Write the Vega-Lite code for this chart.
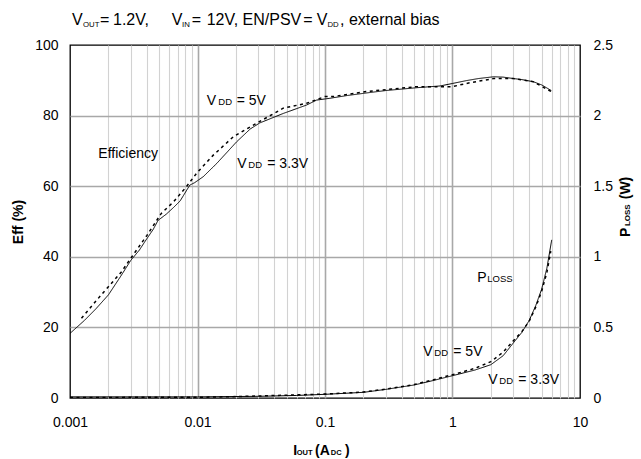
{
  "$schema": "https://vega.github.io/schema/vega-lite/v6.json",
  "width": 510,
  "height": 353,
  "autosize": {"type": "none"},
  "padding": {"left": 70, "top": 45, "right": 61, "bottom": 61},
  "background": "white",
  "config": {
    "font": "Liberation Sans",
    "view": {"stroke": "black", "strokeWidth": 1.3},
    "text": {"font": "Liberation Sans", "color": "black", "align": "left", "baseline": "alphabetic"}
  },
  "datasets": {
    "eff": [
      {"I": 0.001, "eff": 18.3, "s": "3.3V"}, {"I": 0.0013, "eff": 22, "s": "3.3V"}, {"I": 0.0016, "eff": 25.3, "s": "3.3V"},
      {"I": 0.002, "eff": 29.2, "s": "3.3V"}, {"I": 0.0025, "eff": 34.5, "s": "3.3V"}, {"I": 0.003, "eff": 39, "s": "3.3V"},
      {"I": 0.0035, "eff": 41.9, "s": "3.3V"}, {"I": 0.0039, "eff": 44.5, "s": "3.3V"}, {"I": 0.0045, "eff": 47.8, "s": "3.3V"},
      {"I": 0.0049, "eff": 50.3, "s": "3.3V"}, {"I": 0.0057, "eff": 52.1, "s": "3.3V"}, {"I": 0.0065, "eff": 54, "s": "3.3V"},
      {"I": 0.0073, "eff": 55.8, "s": "3.3V"}, {"I": 0.0087, "eff": 60.3, "s": "3.3V"}, {"I": 0.0095, "eff": 61, "s": "3.3V"},
      {"I": 0.0111, "eff": 62.7, "s": "3.3V"}, {"I": 0.0142, "eff": 66.5, "s": "3.3V"}, {"I": 0.0203, "eff": 72.6, "s": "3.3V"},
      {"I": 0.0259, "eff": 76.2, "s": "3.3V"}, {"I": 0.0307, "eff": 77.9, "s": "3.3V"}, {"I": 0.047, "eff": 80.6, "s": "3.3V"},
      {"I": 0.0718, "eff": 83, "s": "3.3V"}, {"I": 0.086, "eff": 84.4, "s": "3.3V"}, {"I": 0.109, "eff": 84.9, "s": "3.3V"},
      {"I": 0.15, "eff": 85.7, "s": "3.3V"}, {"I": 0.21, "eff": 86.4, "s": "3.3V"}, {"I": 0.3, "eff": 87.1, "s": "3.3V"},
      {"I": 0.525, "eff": 87.9, "s": "3.3V"}, {"I": 0.8, "eff": 88.4, "s": "3.3V"}, {"I": 1.0, "eff": 89.1, "s": "3.3V"},
      {"I": 1.28, "eff": 89.9, "s": "3.3V"}, {"I": 1.6, "eff": 90.5, "s": "3.3V"}, {"I": 2.1, "eff": 91, "s": "3.3V"},
      {"I": 2.5, "eff": 90.9, "s": "3.3V"}, {"I": 3.0, "eff": 90.5, "s": "3.3V"}, {"I": 3.5, "eff": 90.2, "s": "3.3V"},
      {"I": 4.3, "eff": 89.6, "s": "3.3V"}, {"I": 5.0, "eff": 88.7, "s": "3.3V"}, {"I": 5.95, "eff": 87.1, "s": "3.3V"},
      {"I": 0.00123, "eff": 22.6, "s": "5V"}, {"I": 0.0016, "eff": 27.5, "s": "5V"}, {"I": 0.002, "eff": 31.5, "s": "5V"},
      {"I": 0.00254, "eff": 35.8, "s": "5V"}, {"I": 0.003, "eff": 39.6, "s": "5V"}, {"I": 0.004, "eff": 46, "s": "5V"},
      {"I": 0.0052, "eff": 52.3, "s": "5V"}, {"I": 0.0065, "eff": 55.6, "s": "5V"}, {"I": 0.0082, "eff": 59.9, "s": "5V"},
      {"I": 0.0098, "eff": 63.6, "s": "5V"}, {"I": 0.0133, "eff": 68.8, "s": "5V"}, {"I": 0.0191, "eff": 74, "s": "5V"},
      {"I": 0.029, "eff": 77.8, "s": "5V"}, {"I": 0.047, "eff": 82.1, "s": "5V"}, {"I": 0.0718, "eff": 83.5, "s": "5V"},
      {"I": 0.1, "eff": 85.4, "s": "5V"}, {"I": 0.116, "eff": 85.4, "s": "5V"}, {"I": 0.21, "eff": 86.8, "s": "5V"},
      {"I": 0.525, "eff": 88.2, "s": "5V"}, {"I": 1.0, "eff": 88.2, "s": "5V"}, {"I": 1.28, "eff": 89.1, "s": "5V"},
      {"I": 2.1, "eff": 90.5, "s": "5V"}, {"I": 3.0, "eff": 90.5, "s": "5V"}, {"I": 4.3, "eff": 89.6, "s": "5V"},
      {"I": 5.95, "eff": 86.8, "s": "5V"}
    ],
    "ploss": [
      {"I": 0.001, "p": 0.008, "s": "3.3V"}, {"I": 0.003, "p": 0.008, "s": "3.3V"}, {"I": 0.01, "p": 0.008, "s": "3.3V"},
      {"I": 0.03, "p": 0.012, "s": "3.3V"}, {"I": 0.06, "p": 0.018, "s": "3.3V"}, {"I": 0.1, "p": 0.026, "s": "3.3V"},
      {"I": 0.2, "p": 0.04, "s": "3.3V"}, {"I": 0.3, "p": 0.061, "s": "3.3V"}, {"I": 0.5, "p": 0.092, "s": "3.3V"},
      {"I": 0.7, "p": 0.123, "s": "3.3V"}, {"I": 1, "p": 0.158, "s": "3.3V"}, {"I": 1.5, "p": 0.198, "s": "3.3V"},
      {"I": 2, "p": 0.236, "s": "3.3V"}, {"I": 2.5, "p": 0.3, "s": "3.3V"}, {"I": 3, "p": 0.39, "s": "3.3V"},
      {"I": 3.5, "p": 0.465, "s": "3.3V"}, {"I": 4, "p": 0.55, "s": "3.3V"}, {"I": 4.5, "p": 0.655, "s": "3.3V"},
      {"I": 5, "p": 0.77, "s": "3.3V"}, {"I": 5.5, "p": 0.92, "s": "3.3V"}, {"I": 6, "p": 1.12, "s": "3.3V"},
      {"I": 0.001, "p": 0.004, "s": "5V"}, {"I": 0.01, "p": 0.005, "s": "5V"}, {"I": 0.02, "p": 0.01, "s": "5V"},
      {"I": 0.05, "p": 0.02, "s": "5V"}, {"I": 0.1, "p": 0.028, "s": "5V"}, {"I": 0.2, "p": 0.042, "s": "5V"},
      {"I": 0.3, "p": 0.063, "s": "5V"}, {"I": 0.5, "p": 0.095, "s": "5V"}, {"I": 0.7, "p": 0.128, "s": "5V"},
      {"I": 1, "p": 0.165, "s": "5V"}, {"I": 1.5, "p": 0.21, "s": "5V"}, {"I": 2, "p": 0.257, "s": "5V"},
      {"I": 2.5, "p": 0.325, "s": "5V"}, {"I": 3, "p": 0.405, "s": "5V"}, {"I": 3.5, "p": 0.47, "s": "5V"},
      {"I": 4, "p": 0.545, "s": "5V"}, {"I": 4.5, "p": 0.645, "s": "5V"}, {"I": 5, "p": 0.755, "s": "5V"},
      {"I": 5.5, "p": 0.89, "s": "5V"}, {"I": 5.9, "p": 1.04, "s": "5V"}
    ],
    "annBig": [
      {"I": 0.01181, "eff": 83.0, "t": "V"}, {"I": 0.0203, "eff": 83.0, "t": "= 5V"},
      {"I": 0.02052, "eff": 65.07, "t": "V"}, {"I": 0.03527, "eff": 65.07, "t": "= 3.3V"},
      {"I": 0.001667, "eff": 67.9, "t": "Efficiency"},
      {"I": 1.565, "eff": 32.95, "t": "P"},
      {"I": 0.5902, "eff": 11.9, "t": "V"}, {"I": 1.0146, "eff": 11.9, "t": "= 5V"},
      {"I": 1.909, "eff": 3.97, "t": "V"}, {"I": 3.282, "eff": 3.97, "t": "= 3.3V"}
    ],
    "annSub": [
      {"I": 0.01456, "eff": 83.0, "t": "DD"}, {"I": 0.02503, "eff": 65.07, "t": "DD"},
      {"I": 1.875, "eff": 32.95, "t": "LOSS"}, {"I": 0.7203, "eff": 11.9, "t": "DD"},
      {"I": 2.329, "eff": 3.97, "t": "DD"}
    ],
    "titleBig": [
      {"I": 0.001037, "eff": 105.67, "t": "V"}, {"I": 0.001719, "eff": 105.67, "t": "="},
      {"I": 0.002175, "eff": 105.67, "t": "1.2V,"},
      {"I": 0.006272, "eff": 105.67, "t": "V"}, {"I": 0.009006, "eff": 105.67, "t": "="},
      {"I": 0.01181, "eff": 105.67, "t": "12V, EN/PSV"},
      {"I": 0.06757, "eff": 105.67, "t": "="},
      {"I": 0.08608, "eff": 105.67, "t": "V"}, {"I": 0.1311, "eff": 105.67, "t": ", external bias"}
    ],
    "titleSub": [
      {"I": 0.001265, "eff": 105.24, "t": "OUT"}, {"I": 0.007557, "eff": 105.24, "t": "IN"},
      {"I": 0.1046, "eff": 105.24, "t": "DD"}
    ],
    "xTitleBig": [
      {"I": 0.05641, "eff": -16.15, "t": "I"}, {"I": 0.08348, "eff": -16.15, "t": "(A"},
      {"I": 0.1435, "eff": -16.15, "t": ")"}
    ],
    "xTitleSub": [
      {"I": 0.05998, "eff": -16.15, "t": "OUT"}, {"I": 0.1109, "eff": -16.15, "t": "DC"}
    ],
    "yTitleBig": [
      {"I": 24.67, "eff": 45.6, "t": "P"}, {"I": 24.67, "eff": 56.3, "t": "(W)"}
    ],
    "yTitleSub": [
      {"I": 24.67, "eff": 48.7, "t": "LOSS"}
    ]
  },
  "layer": [
    {
      "layer": [
        {
          "data": {"name": "eff"},
          "mark": {"type": "line", "color": "black", "clip": true},
          "encoding": {
            "x": {
              "field": "I", "type": "quantitative",
              "scale": {"type": "log", "domain": [0.001, 10], "nice": false},
              "axis": {
                "title": null,
                "values": [0.001, 0.002, 0.003, 0.004, 0.005, 0.006, 0.007, 0.008, 0.009,
                           0.01, 0.02, 0.03, 0.04, 0.05, 0.06, 0.07, 0.08, 0.09,
                           0.1, 0.2, 0.3, 0.4, 0.5, 0.6, 0.7, 0.8, 0.9,
                           1, 2, 3, 4, 5, 6, 7, 8, 9, 10],
                "grid": true,
                "gridColor": {"condition": {"test": "abs(log(datum.value)/LN10 - round(log(datum.value)/LN10)) < 0.001", "value": "#a8a8a8"}, "value": "#d2d2d2"},
                "gridWidth": {"condition": {"test": "abs(log(datum.value)/LN10 - round(log(datum.value)/LN10)) < 0.001", "value": 1.6}, "value": 1.1},
                "gridOpacity": {"condition": {"test": "datum.value < 0.0011 || datum.value > 9.9", "value": 0}, "value": 1},
                "ticks": false, "domain": false,
                "labelExpr": "abs(log(datum.value)/LN10 - round(log(datum.value)/LN10)) < 0.001 ? format(datum.value, '~g') : ''",
                "labelOverlap": false, "labelFlush": false, "labelBound": false,
                "labelPadding": 17, "labelFontSize": 14, "labelColor": "black", "labelFont": "Liberation Sans"
              }
            },
            "y": {
              "field": "eff", "type": "quantitative",
              "scale": {"domain": [0, 100], "nice": false},
              "axis": {
                "title": "Eff (%)",
                "orient": "left",
                "values": [0, 20, 40, 60, 80, 100],
                "grid": true, "gridColor": "#a8a8a8", "gridWidth": 1.6,
                "gridOpacity": {"condition": {"test": "datum.value === 0 || datum.value === 100", "value": 0}, "value": 1},
                "ticks": false, "domain": false,
                "labelPadding": 12, "labelFontSize": 14, "labelColor": "black", "labelFont": "Liberation Sans",
                "titleFontSize": 14, "titleFontWeight": "bold", "titleColor": "black", "titleFont": "Liberation Sans",
                "titlePadding": 9
              }
            },
            "strokeDash": {"field": "s", "type": "nominal", "scale": {"domain": ["3.3V", "5V"], "range": [[1, 0], [3, 3.5]]}, "legend": null},
            "strokeWidth": {"field": "s", "type": "nominal", "scale": {"domain": ["3.3V", "5V"], "range": [1, 1.5]}, "legend": null}
          }
        },
        {
          "data": {"name": "annBig"},
          "mark": {"type": "text", "fontSize": 14},
          "encoding": {
            "x": {"field": "I", "type": "quantitative", "scale": {"type": "log", "domain": [0.001, 10], "nice": false}},
            "y": {"field": "eff", "type": "quantitative", "scale": {"domain": [0, 100], "nice": false}},
            "text": {"field": "t"}
          }
        },
        {
          "data": {"name": "annSub"},
          "mark": {"type": "text", "fontSize": 9.5},
          "encoding": {
            "x": {"field": "I", "type": "quantitative", "scale": {"type": "log", "domain": [0.001, 10], "nice": false}},
            "y": {"field": "eff", "type": "quantitative", "scale": {"domain": [0, 100], "nice": false}},
            "text": {"field": "t"}
          }
        },
        {
          "data": {"name": "titleBig"},
          "mark": {"type": "text", "fontSize": 16},
          "encoding": {
            "x": {"field": "I", "type": "quantitative", "scale": {"type": "log", "domain": [0.001, 10], "nice": false}},
            "y": {"field": "eff", "type": "quantitative", "scale": {"domain": [0, 100], "nice": false}},
            "text": {"field": "t"}
          }
        },
        {
          "data": {"name": "titleSub"},
          "mark": {"type": "text", "fontSize": 7.8},
          "encoding": {
            "x": {"field": "I", "type": "quantitative", "scale": {"type": "log", "domain": [0.001, 10], "nice": false}},
            "y": {"field": "eff", "type": "quantitative", "scale": {"domain": [0, 100], "nice": false}},
            "text": {"field": "t"}
          }
        },
        {
          "data": {"name": "xTitleBig"},
          "mark": {"type": "text", "fontSize": 14, "fontWeight": "bold"},
          "encoding": {
            "x": {"field": "I", "type": "quantitative", "scale": {"type": "log", "domain": [0.001, 10], "nice": false}},
            "y": {"field": "eff", "type": "quantitative", "scale": {"domain": [0, 100], "nice": false}},
            "text": {"field": "t"}
          }
        },
        {
          "data": {"name": "xTitleSub"},
          "mark": {"type": "text", "fontSize": 7.5, "fontWeight": "bold"},
          "encoding": {
            "x": {"field": "I", "type": "quantitative", "scale": {"type": "log", "domain": [0.001, 10], "nice": false}},
            "y": {"field": "eff", "type": "quantitative", "scale": {"domain": [0, 100], "nice": false}},
            "text": {"field": "t"}
          }
        },
        {
          "data": {"name": "yTitleBig"},
          "mark": {"type": "text", "fontSize": 14, "fontWeight": "bold", "angle": 270},
          "encoding": {
            "x": {"field": "I", "type": "quantitative", "scale": {"type": "log", "domain": [0.001, 10], "nice": false}},
            "y": {"field": "eff", "type": "quantitative", "scale": {"domain": [0, 100], "nice": false}},
            "text": {"field": "t"}
          }
        },
        {
          "data": {"name": "yTitleSub"},
          "mark": {"type": "text", "fontSize": 8, "fontWeight": "bold", "angle": 270},
          "encoding": {
            "x": {"field": "I", "type": "quantitative", "scale": {"type": "log", "domain": [0.001, 10], "nice": false}},
            "y": {"field": "eff", "type": "quantitative", "scale": {"domain": [0, 100], "nice": false}},
            "text": {"field": "t"}
          }
        }
      ]
    },
    {
      "data": {"name": "ploss"},
      "mark": {"type": "line", "color": "black", "clip": true},
      "encoding": {
        "x": {"field": "I", "type": "quantitative", "scale": {"type": "log", "domain": [0.001, 10], "nice": false}},
        "y": {
          "field": "p", "type": "quantitative",
          "scale": {"domain": [0, 2.5], "nice": false},
          "axis": {
            "title": null, "format": "~g",
            "orient": "right", "values": [0, 0.5, 1, 1.5, 2, 2.5], "grid": false,
            "ticks": false, "domain": false, "labelPadding": 13, "labelFontSize": 14,
            "labelColor": "black", "labelFont": "Liberation Sans", "labelOverlap": false, "labelFlush": false
          }
        },
        "strokeDash": {"field": "s", "type": "nominal", "scale": {"domain": ["3.3V", "5V"], "range": [[1, 0], [3, 3.5]]}, "legend": null},
        "strokeWidth": {"field": "s", "type": "nominal", "scale": {"domain": ["3.3V", "5V"], "range": [1, 1.5]}, "legend": null}
      }
    }
  ],
  "resolve": {"scale": {"y": "independent"}}
}
